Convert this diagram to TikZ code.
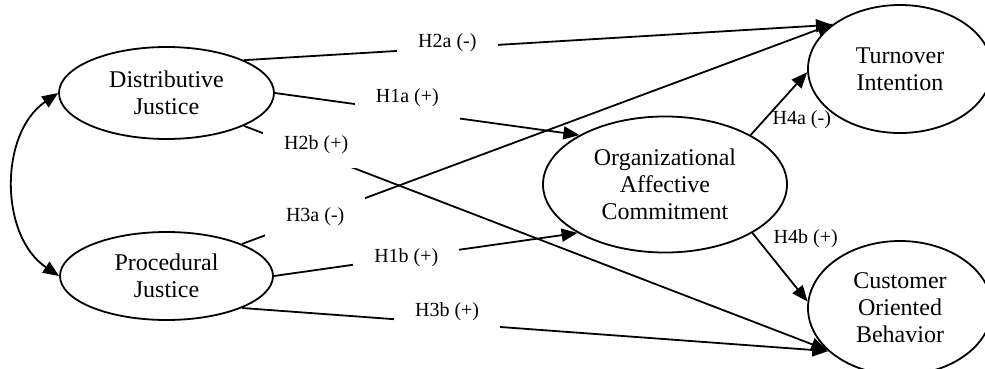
\documentclass[tikz,border=0pt]{standalone}
\usepackage{fontspec}
\setmainfont{Liberation Serif}
\usepackage{tikz}
\usetikzlibrary{shapes.geometric,arrows.meta}
\tikzset{
    latent/.style={draw, ellipse, line width=0.9pt, inner sep=0pt, align=center,
        font=\fontsize{12}{13.5}\selectfont},
    link/.style={line width=0.9pt, -{Triangle[length=8pt,width=6.5pt]}},
    hyp/.style={fill=white, inner xsep=10.5pt, inner ysep=7pt,
        font=\fontsize{10}{12}\selectfont},
    hypside/.style={inner sep=2pt, font=\fontsize{10}{12}\selectfont}
}

\begin{document}
\begin{tikzpicture}[x=0.5pt,y=-0.5pt]
        \useasboundingbox (0,0) rectangle (985,369);

        % Draw the constructs
        \node[latent, minimum width=107.5pt, minimum height=46pt] (dj) at (166.5,93) {Distributive\\Justice};
        \node[latent, minimum width=106.5pt, minimum height=44pt] (pj) at (166.5,276) {Procedural\\Justice};
        \node[latent, minimum width=122pt, minimum height=68pt] (oc) at (665,184.5) {Organizational\\Affective\\Commitment};
        \node[latent, minimum width=92pt, minimum height=64pt] (ti) at (900,69) {Turnover\\Intention};
        \node[latent, minimum width=92pt, minimum height=67pt] (co) at (900,308) {Customer\\Oriented\\Behavior};

        % Draw the correlation between the two justice constructs
        \draw[link, {Triangle[length=8pt,width=6.5pt]}-{Triangle[length=8pt,width=6.5pt]}] (dj.west) to[bend right=56] (pj.west);

        % Draw the hypotheses
        \draw[link] (dj.23) -- node[hyp, pos=0.346, yshift=2.5pt] (h2a) {H2a (-)} (ti.147);
        \draw[link] (dj.east) -- node[hyp, pos=0.435, yshift=7pt] (h1a) {H1a (+)} (oc.150);
        \draw[link] (dj.337) -- node[hyp, pos=0.124, yshift=4.5pt] (h2b) {H2b (+)} (co.210);
        \draw[link] (pj.23) -- node[hyp, pos=0.124] (h3a) {H3a (-)} (ti.146);
        \draw[link] (pj.east) -- node[hyp, pos=0.436] (h1b) {H1b (+)} (oc.209);
        \draw[link] (pj.337) -- node[hyp, pos=0.35, yshift=5.5pt] (h3b) {H3b (+)} (co.211);
        \draw[link] (oc.30) -- node[hypside, pos=0.25, right=1.5pt] (h4a) {H4a (-)} (ti.182);
        \draw[link] (oc.331) -- node[hypside, pos=0.08, right=6pt] (h4b) {H4b (+)} (co.176);
    \end{tikzpicture}
\end{document}
